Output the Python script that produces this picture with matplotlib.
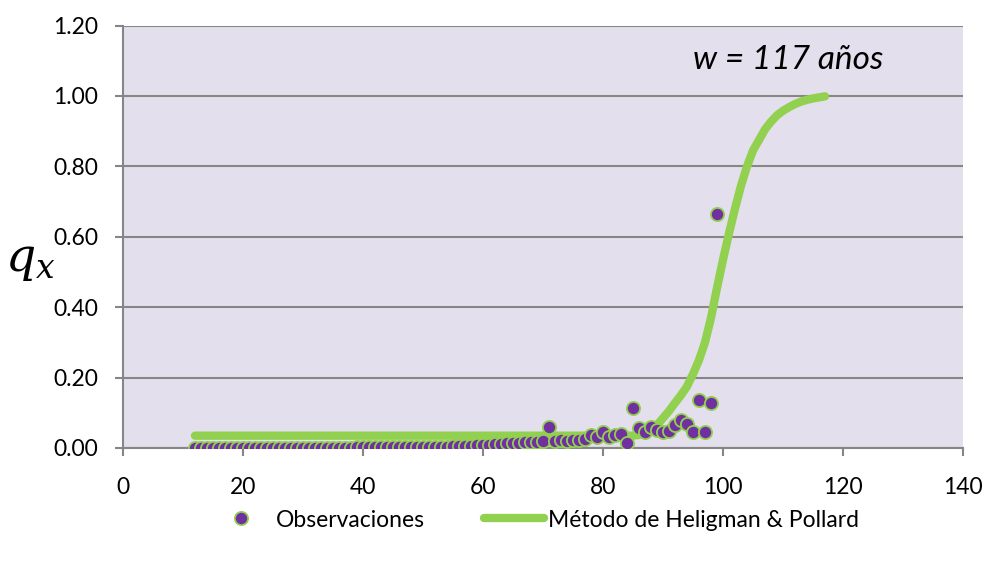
import matplotlib.pyplot as plt
import numpy as np

plt.rcParams['font.family'] = ['Lato', 'DejaVu Sans']

# Observaciones: edad y q_x observada
edad_obs = list(range(12, 100))
qx_obs = ([0.0005] * 27 +                                   # 12-38
          [0.002, 0.002, 0.002, 0.002, 0.003, 0.003, 0.003, 0.003,
           0.003, 0.003, 0.004, 0.004, 0.004, 0.004, 0.004, 0.004,  # 39-54
           0.006, 0.006, 0.007, 0.007, 0.008, 0.008, 0.009,         # 55-61
           0.011, 0.012, 0.013, 0.014, 0.015, 0.016, 0.017, 0.018, 0.019,  # 62-70
           0.060, 0.020, 0.022, 0.020, 0.022, 0.024, 0.026, 0.037, 0.030,  # 71-79
           0.045, 0.030, 0.038, 0.040, 0.013, 0.113, 0.056, 0.044, 0.060,  # 80-88
           0.050, 0.045, 0.047, 0.066, 0.080, 0.067, 0.044, 0.136, 0.044,  # 89-97
           0.128, 0.665])                                           # 98-99

# Ajuste Heligman & Pollard
edad_hp = list(range(12, 118))
qx_hp = ([0.035] * 74 +                                     # 12-85
         [0.037, 0.042, 0.050, 0.065, 0.085, 0.105, 0.128, 0.150,
          0.175, 0.210, 0.250, 0.300, 0.370, 0.455, 0.535, 0.610,
          0.680, 0.745, 0.800, 0.845, 0.875, 0.905, 0.927, 0.945,
          0.958, 0.968, 0.977, 0.984, 0.989, 0.993, 0.996, 0.999])

morado = '#7030A0'
verde = '#92D050'

fig = plt.figure(figsize=(9.93, 5.64), dpi=100)
ax = fig.add_axes([0.1239, 0.2057, 0.8459, 0.749])
ax.set_facecolor('#E4DFEC')

ax.plot(edad_hp, qx_hp, color=verde, lw=6, solid_capstyle='round',
        zorder=2, label='Método de Heligman & Pollard')
ax.plot(edad_obs, qx_obs, 'o', ms=9.5, mfc=morado, mec=verde, mew=1.3,
        zorder=3, label='Observaciones')

ax.set_xlim(0, 140)
ax.set_ylim(0, 1.2)
ax.set_xticks(np.arange(0, 141, 20))
ax.set_yticks(np.arange(0, 1.21, 0.2))
ax.set_yticklabels(['%.2f' % v for v in np.arange(0, 1.21, 0.2)])
ax.grid(axis='y', color='#868686', lw=1.5)
ax.set_axisbelow(True)
for s in ['top', 'right']:
    ax.spines[s].set_visible(False)
for s in ['left', 'bottom']:
    ax.spines[s].set_color('#868686')
    ax.spines[s].set_linewidth(1.5)
ax.tick_params(colors='#868686', labelcolor='black', labelsize=16.5,
               length=6, width=1.5)
ax.tick_params(axis='x', pad=15)
ax.tick_params(axis='y', pad=12)

ax.text(0.792, 0.918, 'w = 117 años', transform=ax.transAxes, ha='center',
        va='center', fontsize=24, style='italic')

fig.text(0.03, 0.535, r'$q_x$', fontsize=34, ha='center', va='center',
         math_fontfamily='dejavuserif')

h, l = ax.get_legend_handles_labels()
fig.legend([h[1], h[0]], [l[1], l[0]], loc='center', ncol=2,
           bbox_to_anchor=(0.539, 0.078), frameon=False, fontsize=16.5,
           handlelength=2.6, columnspacing=2.6, handletextpad=0.2)

fig.savefig('out.png', dpi=100)
